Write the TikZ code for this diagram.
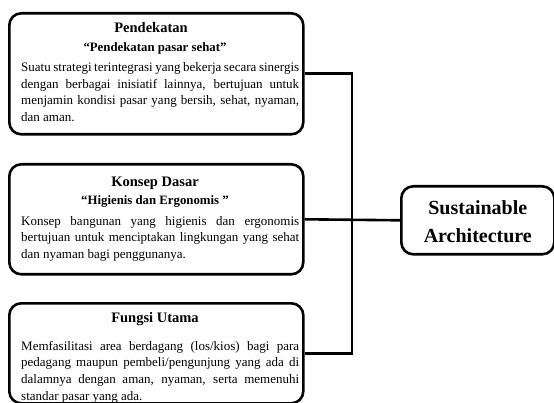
\documentclass[tikz,border=0pt]{standalone}
\usepackage{fontspec}
\setmainfont{Liberation Serif}
\hyphenpenalty=10000
\exhyphenpenalty=10000
\tolerance=9999
\begin{document}
\begin{tikzpicture}[x=1pt,y=-1pt,
  box/.style={draw=black, line width=2.6pt, rounded corners=12pt, fill=white, anchor=north west, inner sep=0pt},
  body/.style={anchor=north west, text width=278pt, align=justify, inner sep=0pt,
    font=\fontsize{13}{16.6}\selectfont},
  title/.style={anchor=base, inner sep=0pt, font=\fontsize{14.5}{17}\selectfont\bfseries},
  subtitle/.style={anchor=base, inner sep=0pt, font=\fontsize{12.8}{17}\selectfont\bfseries},
  conn/.style={draw=black, line width=2.6pt, line join=miter}]
\useasboundingbox (0,0) rectangle (554,403);
% boxes
\node[box, minimum width=294pt, minimum height=121pt] (b1) at (8,12) {};
\node[box, minimum width=294pt, minimum height=110pt] (b2) at (8,163) {};
\node[box, minimum width=294pt, minimum height=100pt] (b3) at (8,302) {};
\node[box, minimum width=153pt, minimum height=68pt] (sa) at (400,185) {};
% box 1
\node[title] (h1) at (151,33) {Pendekatan};
\node[subtitle] (s1) at (155,51.5) {\char8220Pendekatan pasar sehat\char8221};
\node[body] (t1) at (21,62.5) {Suatu strategi terintegrasi yang bekerja secara sinergis dengan berbagai inisiatif lainnya, bertujuan untuk menjamin kondisi pasar yang bersih, sehat, nyaman, dan aman.};
% box 2
\node[title] (h2) at (155,187) {Konsep Dasar};
\node[subtitle] (s2) at (155,204.5) {\char8220Higienis dan Ergonomis \char8221};
\node[body] (t2) at (21,216) {Konsep bangunan yang higienis dan ergonomis bertujuan untuk menciptakan lingkungan yang sehat dan nyaman bagi penggunanya.};
% box 3
\node[title] (h3) at (155,323) {Fungsi Utama};
\node[body] (t3) at (21,341) {Memfasilitasi area berdagang (los/kios) bagi para pedagang maupun pembeli/pengunjung yang ada di dalamnya dengan aman, nyaman, serta memenuhi standar pasar yang ada.};
% main
\node[align=center, font=\fontsize{20}{28.5}\selectfont\bfseries, inner sep=0pt] (tsa) at ([yshift=-1.5pt]sa.center) {Sustainable\\Architecture};
% connectors
\coordinate (j) at (352,219);
\draw[conn] (b1.east) -| (j) |- (b3.east);
\draw[conn] (b2.east) -- (sa.west);
\end{tikzpicture}
\end{document}
